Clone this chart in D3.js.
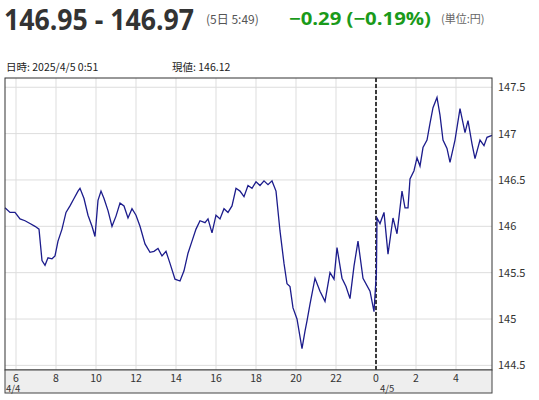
<!DOCTYPE html>
<html><head><meta charset="utf-8">
<script src="https://cdn.jsdelivr.net/npm/d3@7"></script>
<style>body{margin:0;background:#fff;font-family:"Noto Sans CJK JP","Noto Sans",sans-serif;}</style>
</head><body><div id="chart"></div>
<script>
// hours since 4/4 00:00, price
var hours = [5.45,5.70,5.95,6.20,6.45,6.70,6.95,7.15,7.30,7.45,7.60,7.80,7.95,8.10,8.30,8.50,8.70,8.90,9.10,9.20,9.40,9.60,9.80,9.95,10.10,10.25,10.40,10.60,10.80,11.00,11.20,11.40,11.60,11.80,12.00,12.20,12.45,12.70,12.90,13.10,13.30,13.50,13.70,13.95,14.20,14.40,14.60,14.80,15.00,15.20,15.45,15.60,15.80,16.00,16.20,16.40,16.60,16.80,17.00,17.20,17.40,17.60,17.80,18.00,18.20,18.40,18.60,18.80,19.00,19.20,19.40,19.55,19.70,19.85,20.05,20.30,20.45,20.55,20.70,20.95,21.20,21.45,21.70,21.90,22.05,22.30,22.50,22.70,22.90,23.10,23.35,23.70,23.90,24.02,24.05,24.20,24.40,24.60,24.85,25.05,25.30,25.45,25.60,25.70,25.90,26.05,26.20,26.35,26.55,26.70,26.85,27.05,27.20,27.35,27.55,27.70,27.95,28.20,28.45,28.60,28.80,28.95,29.20,29.40,29.55,29.80];
var prices = [146.20,146.15,146.15,146.08,146.06,146.03,146.00,145.97,145.63,145.58,145.66,145.65,145.68,145.84,145.97,146.15,146.22,146.30,146.38,146.41,146.30,146.12,146.00,145.89,146.28,146.38,146.30,146.17,146.00,146.11,146.25,146.22,146.09,146.19,146.12,146.00,145.81,145.72,145.73,145.76,145.68,145.73,145.60,145.43,145.41,145.52,145.71,145.84,145.97,146.06,146.04,146.08,145.93,146.12,146.08,146.19,146.15,146.22,146.41,146.38,146.32,146.44,146.41,146.48,146.44,146.49,146.45,146.49,146.38,145.95,145.60,145.38,145.35,145.12,145.00,144.68,144.87,144.98,145.16,145.44,145.30,145.19,145.50,145.43,145.77,145.44,145.35,145.22,145.57,145.84,145.44,145.30,145.08,145.50,146.09,146.03,146.15,145.70,146.09,145.92,146.38,146.20,146.20,146.51,146.60,146.74,146.65,146.85,146.93,147.11,147.28,147.39,147.20,146.93,146.84,146.69,146.93,147.27,147.01,147.14,146.89,146.73,146.93,146.87,146.96,146.98];
var xTicks = [6,8,10,12,14,16,18,20,22,24,26,28];
var xTickLabels = ["6","8","10","12","14","16","18","20","22","0","2","4"];
var yTicks = [144.5,145,145.5,146,146.5,147,147.5];
var dayLabels = [{h:5.45,t:"4/4"},{h:24,t:"4/5"}];

var W = 539, H = 400;
var L = 5, R = 492, T = 78, B = 370;

var svg = d3.select("#chart").append("svg").attr("width", W).attr("height", H);

// header
svg.append("text").attr("x", 4).attr("y", 30).attr("font-size", 28).attr("font-weight", "bold")
    .attr("font-family", "'Open Sans',sans-serif").attr("fill", "#333")
    .attr("textLength", 190).attr("lengthAdjust", "spacingAndGlyphs").text("146.95 - 146.97");
svg.append("text").attr("x", 206).attr("y", 24).attr("font-size", 12).attr("fill", "#555").text("(5日 5:49)");
svg.append("text").attr("x", 289).attr("y", 25).attr("font-size", 18).attr("font-weight", "bold")
    .attr("font-family", "'Open Sans',sans-serif").attr("fill", "#1a9a1a")
    .attr("textLength", 142).attr("lengthAdjust", "spacingAndGlyphs").text("\u22120.29 (\u22120.19%)");
svg.append("text").attr("x", 441).attr("y", 23).attr("font-size", 11).attr("fill", "#666").text("(単位:円)");
svg.append("text").attr("x", 6).attr("y", 71).attr("font-size", 10.5).attr("fill", "#222").text("日時: 2025/4/5  0:51");
svg.append("text").attr("x", 172).attr("y", 71).attr("font-size", 10.5).attr("fill", "#222").text("現値: 146.12");

var x = d3.scaleLinear().domain([5.45, 29.8]).range([L, R]);
var y = d3.scaleLinear().domain([144.45, 147.6]).range([B, T]);

// grid
svg.append("g").selectAll("line").data(xTicks).enter().append("line")
    .attr("x1", d => x(d)).attr("x2", d => x(d)).attr("y1", T).attr("y2", B)
    .attr("stroke", "#ddd").attr("stroke-width", 1);
svg.append("g").selectAll("line").data(yTicks).enter().append("line")
    .attr("x1", L).attr("x2", R).attr("y1", d => y(d)).attr("y2", d => y(d))
    .attr("stroke", "#ddd").attr("stroke-width", 1);

// day separator
svg.append("line").attr("x1", x(24)).attr("x2", x(24)).attr("y1", T).attr("y2", B)
    .attr("stroke", "#000").attr("stroke-width", 1.5).attr("stroke-dasharray", "4,2");

// price line
var data = hours.map((h, i) => ({h: h, v: prices[i]}));
svg.append("path").datum(data)
    .attr("fill", "none").attr("stroke", "#1c1c8c").attr("stroke-width", 1.3)
    .attr("d", d3.line().x(d => x(d.h)).y(d => y(d.v)));

// frame
svg.append("rect").attr("x", L).attr("y", T).attr("width", R - L).attr("height", B - T)
    .attr("fill", "none").attr("stroke", "#333");

// x band
svg.append("rect").attr("x", L).attr("y", B).attr("width", R - L).attr("height", 23)
    .attr("fill", "#eee").attr("stroke", "#444");
svg.append("g").selectAll("text").data(xTicks).enter().append("text")
    .attr("x", d => x(d)).attr("y", B + 12).attr("text-anchor", "middle")
    .attr("font-size", 10.5).attr("fill", "#333").text((d, i) => xTickLabels[i]);
svg.append("g").selectAll("text").data(dayLabels).enter().append("text")
    .attr("x", d => x(d.h) + (d.h < 6 ? 1 : 4)).attr("y", B + 22).attr("font-size", 9.5).attr("fill", "#333").text(d => d.t);

// y labels
svg.append("g").selectAll("text").data(yTicks).enter().append("text")
    .attr("x", R + 6).attr("y", d => y(d) + 4).attr("font-size", 11).attr("fill", "#333").text(d => d);
</script></body></html>
